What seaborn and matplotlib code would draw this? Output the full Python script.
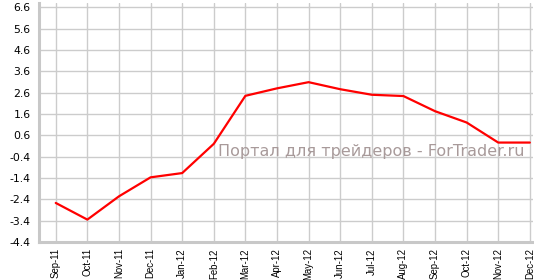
import matplotlib
matplotlib.use("Agg")
import matplotlib.pyplot as plt
import seaborn as sns
import pandas as pd

months = ["Sep-11", "Oct-11", "Nov-11", "Dec-11", "Jan-12", "Feb-12", "Mar-12", "Apr-12",
          "May-12", "Jun-12", "Jul-12", "Aug-12", "Sep-12", "Oct-12", "Nov-12", "Dec-12"]
values = [-2.57, -3.35, -2.26, -1.37, -1.17, 0.2, 2.45, 2.8,
          3.09, 2.76, 2.5, 2.44, 1.73, 1.2, 0.26, 0.26]
yticks = [6.6, 5.6, 4.6, 3.6, 2.6, 1.6, 0.6, -0.4, -1.4, -2.4, -3.4, -4.4]
watermark = "Портал для трейдеров - ForTrader.ru"

sns.set_style("white")
plt.rcParams['font.family'] = ['DejaVu Sans']

df = pd.DataFrame({"idx": range(len(months)), "value": values})

W, H = 534, 280
fig = plt.figure(figsize=(W / 100, H / 100), dpi=100)
ax = fig.add_axes([39 / W, 1 - 242 / H, (533 - 39) / W, (242 - 3) / H])

sns.lineplot(data=df, x="idx", y="value", ax=ax, color="#ff0000", linewidth=1.6, zorder=3)

ax.set_xlim(-0.53, 15.1)
ax.set_ylim(-4.4, 6.8)
ax.set_xticks(range(len(months)))
ax.set_xticklabels(months, rotation=90, fontsize=6.9, family=['Liberation Sans', 'DejaVu Sans'])
ax.set_yticks(yticks)
ax.set_yticklabels([f"{v:.1f}" for v in yticks], fontsize=7.8)
ax.set_xlabel("")
ax.set_ylabel("")

ax.grid(True, color="#cccccc", linewidth=1.0, zorder=0)
ax.set_axisbelow(True)
for s in ["top", "right"]:
    ax.spines[s].set_visible(False)
for s in ["left", "bottom"]:
    ax.spines[s].set_color("#c8c8c8")
    ax.spines[s].set_linewidth(2.2)
ax.tick_params(axis="y", length=4, width=1, color="#c8c8c8", pad=2, labelcolor="black")
ax.tick_params(axis="x", length=4, width=1, color="#c8c8c8", pad=0.5, labelcolor="black")

fig.text(218 / W, 1 - 156 / H, watermark, fontsize=11.5, color="#a89a9a",
         ha="left", va="baseline", zorder=5)

fig.savefig("out.png", dpi=100)
